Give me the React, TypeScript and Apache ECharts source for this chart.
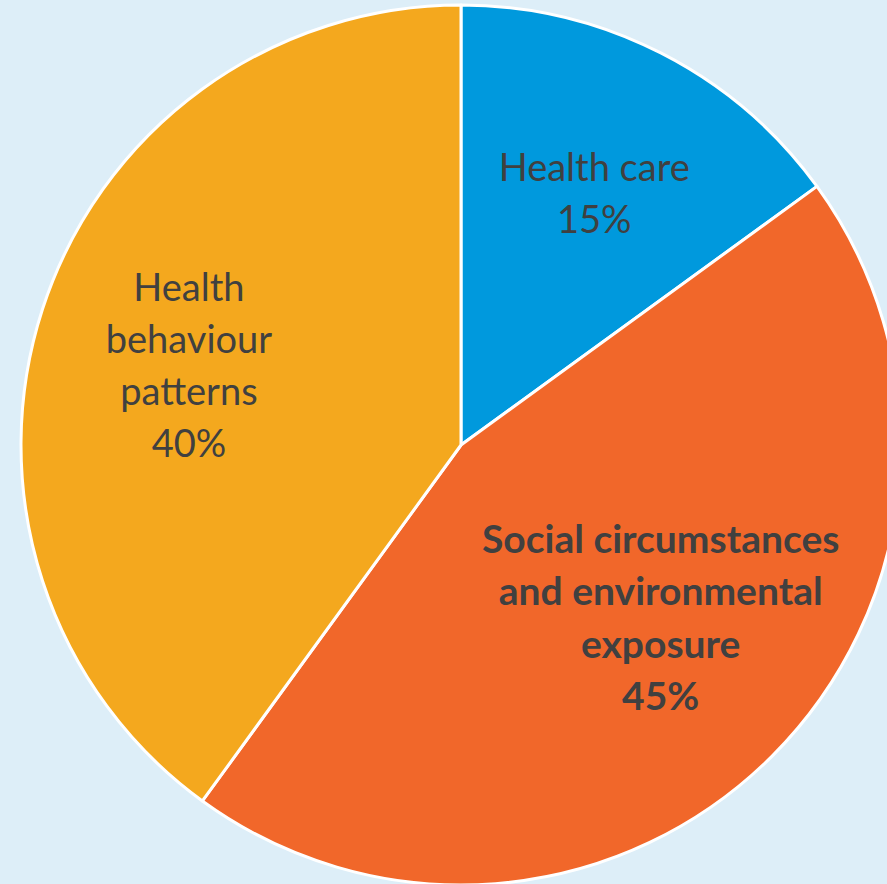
import React, { useEffect, useRef } from "react";
import * as echarts from "echarts";

const categories = [
  "Health care",
  "Social circumstances\nand environmental\nexposure",
  "Health\nbehaviour\npatterns",
];
const values = [15, 45, 40];
const colors = ["#0099dd", "#f1672a", "#f4a81e"];
const boldLabel = [false, true, false];
const labelShift = [
  [32, -54],
  [42, 14],
  [-60, -12],
];

export default function App() {
  const ref = useRef<HTMLDivElement>(null);
  useEffect(() => {
    if (!ref.current) return;
    const chart = echarts.init(ref.current, undefined, { renderer: "svg" });
    chart.setOption({
      animation: false,
      backgroundColor: "#ddeef8",
      series: [
        {
          type: "pie",
          center: [461, 445],
          radius: [0, 440],
          startAngle: 90,
          clockwise: true,
          itemStyle: { borderColor: "#ffffff", borderWidth: 3 },
          label: {
            show: true,
            position: "inside",
            formatter: "{b}\n{c}%",
            color: "#404040",
            fontFamily: "Lato",
            fontSize: 38,
            lineHeight: 52,
            align: "center",
          },
          labelLine: { show: false },
          emphasis: { disabled: true },
          labelLayout: (params: any) => {
            const s = labelShift[params.dataIndex];
            return { dx: s[0], dy: s[1] };
          },
          data: categories.map((name, i) => ({
            name,
            value: values[i],
            itemStyle: { color: colors[i] },
            label: boldLabel[i]
              ? { fontWeight: "bold", fontSize: 39, lineHeight: 52.5 }
              : { fontWeight: "normal" },
          })),
        },
      ],
    });
    return () => chart.dispose();
  }, []);
  return (
    <div
      ref={ref}
      style={{ position: "fixed", left: 0, top: 0, width: 887, height: 884 }}
    />
  );
}
